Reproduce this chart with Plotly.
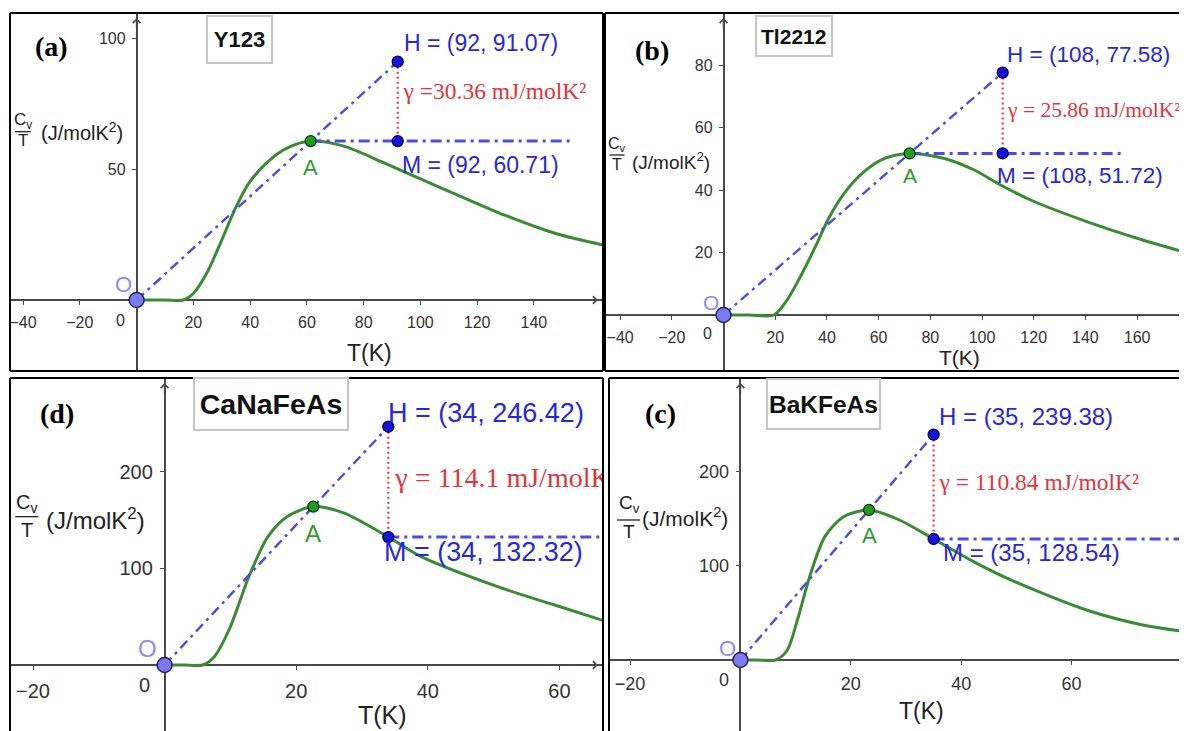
import plotly.graph_objects as go

# the page has an 8 px body margin, so the figure is drawn 8 px in from the
# window corner; all reference pixel positions are converted with that offset
OFF = 8
W, H = 1187 - OFF, 731 - OFF

# ---------------- data ----------------
# (a) Y123
y123_T = [0, 10, 16.5, 20, 24.7, 30, 34.8, 39.5, 46.3, 53, 61.33, 73, 87, 100, 115, 130, 148, 166]
y123_C = [0, 0, 0, 2.5, 10.2, 22.9, 35, 44.6, 52.9, 58, 60.71, 58.8, 52.5, 46.3, 39.2, 32.3, 25.3, 20.6]
y123_A = [61.33, 60.71]
y123_H = [92, 91.07]
y123_M = [92, 60.71]
y123_gamma = 30.36
y123_line_end = 154
y123_xticks = [-40, -20, 20, 40, 60, 80, 100, 120, 140]
y123_yticks = [50, 100]

# (b) Tl2212
tl_T = [0, 10, 19.5, 24.6, 30.4, 36.2, 40.6, 46.4, 53.6, 62.3, 72, 85.5, 97, 107.2, 118.8, 140.5, 162.2, 181]
tl_C = [0, 0, 0, 4.8, 13.3, 23, 30.8, 38.6, 45.3, 50.1, 51.72, 50.1, 46.4, 41.6, 36.8, 29.9, 24, 19.5]
tl_A = [72.0, 51.72]
tl_H = [108, 77.58]
tl_M = [108, 51.72]
tl_gamma = 25.86
tl_line_end = 154
tl_xticks = [-40, -20, 20, 40, 60, 80, 100, 120, 140, 160]
tl_yticks = [20, 40, 60, 80]

# (d) CaNaFeAs
cana_T = [0, 3, 5.8, 7.55, 9.9, 12.8, 15.7, 18.6, 22.6, 27.3, 34, 39, 50.6, 59.3, 68]
cana_C = [0, 0, 0, 8.6, 38, 91.3, 132.7, 153.4, 163.8, 157, 132.32, 112, 81, 62, 43]
cana_A = [22.6, 163.8]
cana_H = [34, 246.42]
cana_M = [34, 132.32]
cana_gamma = 114.1
cana_line_end = 72
cana_xticks = [-20, 20, 40, 60]
cana_yticks = [100, 200]

# (c) BaKFeAs
bak_T = [0, 3, 6.4, 8.5, 10.5, 12.55, 15.3, 18.7, 23.3, 28.8, 35, 42.4, 49.2, 62.7, 72.9, 82]
bak_C = [0, 0, 0, 10.6, 46, 88.5, 131, 152.2, 159.3, 148.7, 128.54, 104, 84.5, 53.1, 37.2, 29]
bak_A = [23.3, 159.3]
bak_H = [35, 239.38]
bak_M = [35, 128.54]
bak_gamma = 110.84
bak_line_end = 86
bak_xticks = [-20, 20, 40, 60, 80]
bak_yticks = [100, 200]

# ---------------- styles ----------------
SANS = "Liberation Sans, Arial, sans-serif"
SERIF = "Liberation Serif, Times New Roman, serif"
AX = "#4a4a4a"
GREEN = "#3b8a36"
BLUE_L = "#4b4bea"
BLUE_PT = "#1414dc"
BLUE_TXT = "#2727e2"
RED = "#f03c3c"
RED_TXT = "#e3343c"
O_FILL = "#7b7bef"
O_TXT = "#8c8ce8"
A_FILL = "#1f9e1f"
A_TXT = "#2e9a2e"

panels = [
    dict(T=y123_T, C=y123_C, A=y123_A, Hp=y123_H, Mp=y123_M, g=y123_gamma, gsep="=",
         hx0=y123_A[0], hx1=y123_line_end, xt=y123_xticks, yt=y123_yticks,
         name="Y123", letter="(a)",
         box=(10, 13, 603, 371), sides=(1, 1, 1, 1), org=(136.6, 300), sc=(2.838, 2.617),
         ft=16, fhm=23, fg=23.5, foa=22, ftk=23, fti=22, gfrac=0.60,
         hoff=(4, 19), moff=(2, -24), aoff=-26, ooff=(-13, 16), zoff=(-16, -20),
         tbox=(205.5, 15, 272.5, 64), lett=(33, 46.5), tk=(369, 353),
         ylab=dict(bar=(15, 30.7, 131.7), cv=(22.8, 121.0), t=(22.8, 140.5), fs=17,
                   par=(39, 131.7), ps=20),
         arrows=(True, True)),
    dict(T=tl_T, C=tl_C, A=tl_A, Hp=tl_H, Mp=tl_M, g=tl_gamma, gsep="= ",
         hx0=tl_A[0], hx1=tl_line_end, xt=tl_xticks, yt=tl_yticks,
         name="Tl2212", letter="(b)",
         box=(605, 13, 1187, 371), sides=(1, 1, 0, 1), org=(723.5, 315), sc=(2.585, 3.125),
         ft=16, fhm=22.5, fg=21.5, foa=21, ftk=21, fti=21, gfrac=0.52,
         hoff=(2, 18), moff=(-8, -22), aoff=-22, ooff=(-13, 12.5), zoff=(-16, -18),
         tbox=(755.4, 15, 832.9, 57), lett=(633, 50), tk=(959.4, 357),
         ylab=dict(bar=(609.5, 624.5, 155), cv=(617, 144.5), t=(617, 164), fs=16,
                   par=(630, 161), ps=19),
         arrows=(True, False)),
    dict(T=cana_T, C=cana_C, A=cana_A, Hp=cana_H, Mp=cana_M, g=cana_gamma, gsep="= ",
         hx0=cana_M[0], hx1=cana_line_end, xt=cana_xticks, yt=cana_yticks,
         name="CaNaFeAs", letter="(d)",
         box=(10, 378, 603, 731), sides=(1, 1, 1, 0), org=(164.6, 665), sc=(6.58, 0.967),
         ft=20, fhm=27, fg=28, foa=24, ftk=25, fti=28.5, gfrac=0.52,
         hoff=(-2, 14), moff=(-6, -15), aoff=-27, ooff=(-17, 16.5), zoff=(-20, -20),
         tbox=(193, 377, 349, 431), lett=(38, 413.5), tk=(382.7, 715),
         ylab=dict(bar=(15.3, 38.3, 516.7), cv=(26.8, 503), t=(26.8, 530), fs=20,
                   par=(44, 519), ps=24),
         arrows=(True, True)),
    dict(T=bak_T, C=bak_C, A=bak_A, Hp=bak_H, Mp=bak_M, g=bak_gamma, gsep="= ",
         hx0=bak_M[0], hx1=bak_line_end, xt=bak_xticks, yt=bak_yticks,
         name="BaKFeAs", letter="(c)",
         box=(609, 378, 1187, 731), sides=(1, 1, 0, 0), org=(740.4, 660), sc=(5.52, 0.9415),
         ft=18, fhm=24, fg=23.5, foa=22, ftk=23, fti=24.5, gfrac=0.53,
         hoff=(3, 18), moff=(7, -14), aoff=-25, ooff=(-12.5, 12), zoff=(-16, -20),
         tbox=(765.9, 378, 880.8, 430), lett=(643, 413.5), tk=(921, 711),
         ylab=dict(bar=(617, 640, 520), cv=(629, 504), t=(629, 531), fs=19,
                   par=(640, 516.7), ps=21),
         arrows=(True, False)),
]


def PX(x):
    return (x - OFF) / W


def PY(y):
    return 1 - (y - OFF) / H


fig = go.Figure()
ann = []
shapes = []
layout_axes = {}

for i, p in enumerate(panels):
    s = "" if i == 0 else str(i + 1)
    xa, ya = "x" + s, "y" + s
    l, t, r, b = p["box"]
    ox, oy = p["org"]
    sx, sy = p["sc"]
    xr = [(l - ox) / sx, (r - ox) / sx]
    yr = [(oy - b) / sy, (oy - t) / sy]
    tickfont = dict(family=SANS, size=p["ft"], color="#333333")
    layout_axes["xaxis" + s] = dict(
        domain=[PX(l), PX(r)], range=xr, anchor="free", position=PY(oy),
        showline=True, linecolor=AX, linewidth=1.5, ticks="outside", ticklen=4,
        tickwidth=1.3, tickcolor=AX, tickvals=p["xt"], tickfont=tickfont,
        showgrid=False, zeroline=False, fixedrange=True, ticklabelstandoff=4,
        layer="below traces")
    layout_axes["yaxis" + s] = dict(
        domain=[PY(b), PY(t)], range=yr, anchor="free", position=PX(ox),
        showline=True, linecolor=AX, linewidth=1.5, ticks="outside", ticklen=4,
        tickwidth=1.3, tickcolor=AX, tickvals=p["yt"], tickfont=tickfont,
        showgrid=False, zeroline=False, fixedrange=True, ticklabelstandoff=3,
        layer="below traces")

    Hx, Hy = p["Hp"]
    Mx, My = p["Mp"]
    Ax, Ay = p["A"]
    common = dict(xaxis=xa, yaxis=ya, hoverinfo="skip", showlegend=False)
    # curve
    fig.add_trace(go.Scatter(x=p["T"], y=p["C"], mode="lines",
                             line=dict(color=GREEN, width=3, shape="spline", smoothing=0.8),
                             **common))
    # O-H dash-dot
    fig.add_trace(go.Scatter(x=[0, Hx], y=[0, Hy], mode="lines",
                             line=dict(color=BLUE_L, width=2.4, dash="10px,5px,3px,5px"), **common))
    # horizontal dash-dot
    fig.add_trace(go.Scatter(x=[p["hx0"], p["hx1"]], y=[My, My], mode="lines",
                             line=dict(color=BLUE_L, width=3, dash="11px,5px,3px,5px"), **common))
    # red dotted H-M
    fig.add_trace(go.Scatter(x=[Hx, Mx], y=[Hy, My], mode="lines",
                             line=dict(color=RED, width=2.2, dash="2px,3px"), **common))
    # points
    fig.add_trace(go.Scatter(x=[0], y=[0], mode="markers",
                             marker=dict(size=15, color=O_FILL, line=dict(color="#23235e", width=1.5)),
                             **common))
    fig.add_trace(go.Scatter(x=[Ax], y=[Ay], mode="markers",
                             marker=dict(size=11, color=A_FILL, line=dict(color="#0b3b0b", width=1.3)),
                             **common))
    fig.add_trace(go.Scatter(x=[Hx, Mx], y=[Hy, My], mode="markers",
                             marker=dict(size=11, color=BLUE_PT, line=dict(color="#00004a", width=1.3)),
                             **common))
    # gamma text (clipped to the panel like the original)
    gtxt = "\u00a0γ " + p["gsep"] + f"{p['g']:g} mJ/molK²"
    fig.add_trace(go.Scatter(x=[Hx], y=[My + p["gfrac"] * (Hy - My)], mode="text", text=[gtxt],
                             textposition="middle right", cliponaxis=True,
                             textfont=dict(family=SERIF, size=p["fg"], color=RED_TXT), **common))

    # point labels
    ann.append(dict(xref=xa, yref=ya, x=Hx, y=Hy, text=f"H = ({Hx:g}, {Hy:g})", showarrow=False,
                    xanchor="left", yanchor="middle", xshift=p["hoff"][0], yshift=p["hoff"][1],
                    font=dict(family=SANS, size=p["fhm"], color=BLUE_TXT)))
    ann.append(dict(xref=xa, yref=ya, x=Mx, y=My, text=f"M = ({Mx:g}, {My:g})", showarrow=False,
                    xanchor="left", yanchor="middle", xshift=p["moff"][0], yshift=p["moff"][1],
                    font=dict(family=SANS, size=p["fhm"], color=BLUE_TXT)))
    ann.append(dict(xref=xa, yref=ya, x=Ax, y=Ay, text="A", showarrow=False,
                    xanchor="center", yanchor="middle", yshift=p["aoff"],
                    font=dict(family=SANS, size=p["foa"], color=A_TXT)))
    ann.append(dict(xref=xa, yref=ya, x=0, y=0, text="O", showarrow=False,
                    xanchor="center", yanchor="middle", xshift=p["ooff"][0], yshift=p["ooff"][1],
                    font=dict(family=SANS, size=p["foa"], color=O_TXT)))
    ann.append(dict(xref=xa, yref=ya, x=0, y=0, text="0", showarrow=False,
                    xanchor="center", yanchor="middle", xshift=p["zoff"][0], yshift=p["zoff"][1],
                    font=tickfont))
    # axis arrows
    if p["arrows"][0]:
        ann.append(dict(xref=xa, yref="paper", x=0, y=PY(t + 5), ax=0, ay=12, text="",
                        showarrow=True, arrowhead=4, arrowsize=1, arrowwidth=1.5,
                        arrowcolor=AX, standoff=0))
    if p["arrows"][1]:
        ann.append(dict(xref="paper", yref=ya, x=PX(r - 5), y=0, ax=-12, ay=0, text="",
                        showarrow=True, arrowhead=4, arrowsize=1, arrowwidth=1.5,
                        arrowcolor=AX, standoff=0))
    # axis title T(K)
    ann.append(dict(xref="paper", yref="paper", x=PX(p["tk"][0]), y=PY(p["tk"][1]), text="T(K)",
                    showarrow=False, xanchor="center", yanchor="middle",
                    font=dict(family=SANS, size=p["ftk"], color="#222222")))
    # y label: Cv / T (J/molK^2)
    yl = p["ylab"]
    ann.append(dict(xref="paper", yref="paper", x=PX(yl["cv"][0]), y=PY(yl["cv"][1]),
                    text="C<sub>v</sub>", showarrow=False, xanchor="center", yanchor="middle",
                    font=dict(family=SANS, size=yl["fs"], color="#222222")))
    ann.append(dict(xref="paper", yref="paper", x=PX(yl["t"][0]), y=PY(yl["t"][1]),
                    text="T", showarrow=False, xanchor="center", yanchor="middle",
                    font=dict(family=SANS, size=yl["fs"], color="#222222")))
    ann.append(dict(xref="paper", yref="paper", x=PX(yl["par"][0]), y=PY(yl["par"][1]),
                    text="(J/molK<sup>2</sup>)", showarrow=False, xanchor="left", yanchor="middle",
                    font=dict(family=SANS, size=yl["ps"], color="#222222")))
    bx0, bx1, by = yl["bar"]
    shapes.append(dict(type="line", xref="paper", yref="paper", x0=PX(bx0), x1=PX(bx1),
                       y0=PY(by), y1=PY(by), line=dict(color="#222222", width=1.3)))
    # title box
    tl_, tt_, tr_, tb_ = p["tbox"]
    bw, bp = 2, 1
    ann.append(dict(xref="paper", yref="paper", x=PX(tl_), y=PY(tt_), xanchor="left", yanchor="top",
                    text=f"<b>{p['name']}</b>", showarrow=False,
                    width=tr_ - tl_ - 2 * (bw + bp), height=tb_ - tt_ - 2 * (bw + bp),
                    bordercolor="#c6c6c6", borderwidth=bw, borderpad=bp, bgcolor="white",
                    align="center", valign="middle",
                    font=dict(family=SANS, size=p["fti"], color="#111111")))
    # panel letter
    ann.append(dict(xref="paper", yref="paper", x=PX(p["lett"][0]), y=PY(p["lett"][1]),
                    xanchor="left", yanchor="middle", text=f"<b>{p['letter']}</b>", showarrow=False,
                    font=dict(family=SERIF, size=28, color="black")))
    # panel frame (sides: left, top, right, bottom)
    sl, st, sr, sb = p["sides"]
    edges = []
    if sl:
        edges.append((l, t, l, b))
    if st:
        edges.append((l, t, r, t))
    if sr:
        edges.append((r, t, r, b))
    if sb:
        edges.append((l, b, r, b))
    for (ex0, ey0, ex1, ey1) in edges:
        shapes.append(dict(type="line", xref="paper", yref="paper",
                           x0=PX(ex0), y0=PY(ey0), x1=PX(ex1), y1=PY(ey1),
                           line=dict(color="black", width=2)))

fig.update_layout(width=W, height=H, margin=dict(l=0, r=0, t=0, b=0),
                  paper_bgcolor="white", plot_bgcolor="white", showlegend=False,
                  annotations=ann, shapes=shapes, **layout_axes)

fig.write_html("out.html")
